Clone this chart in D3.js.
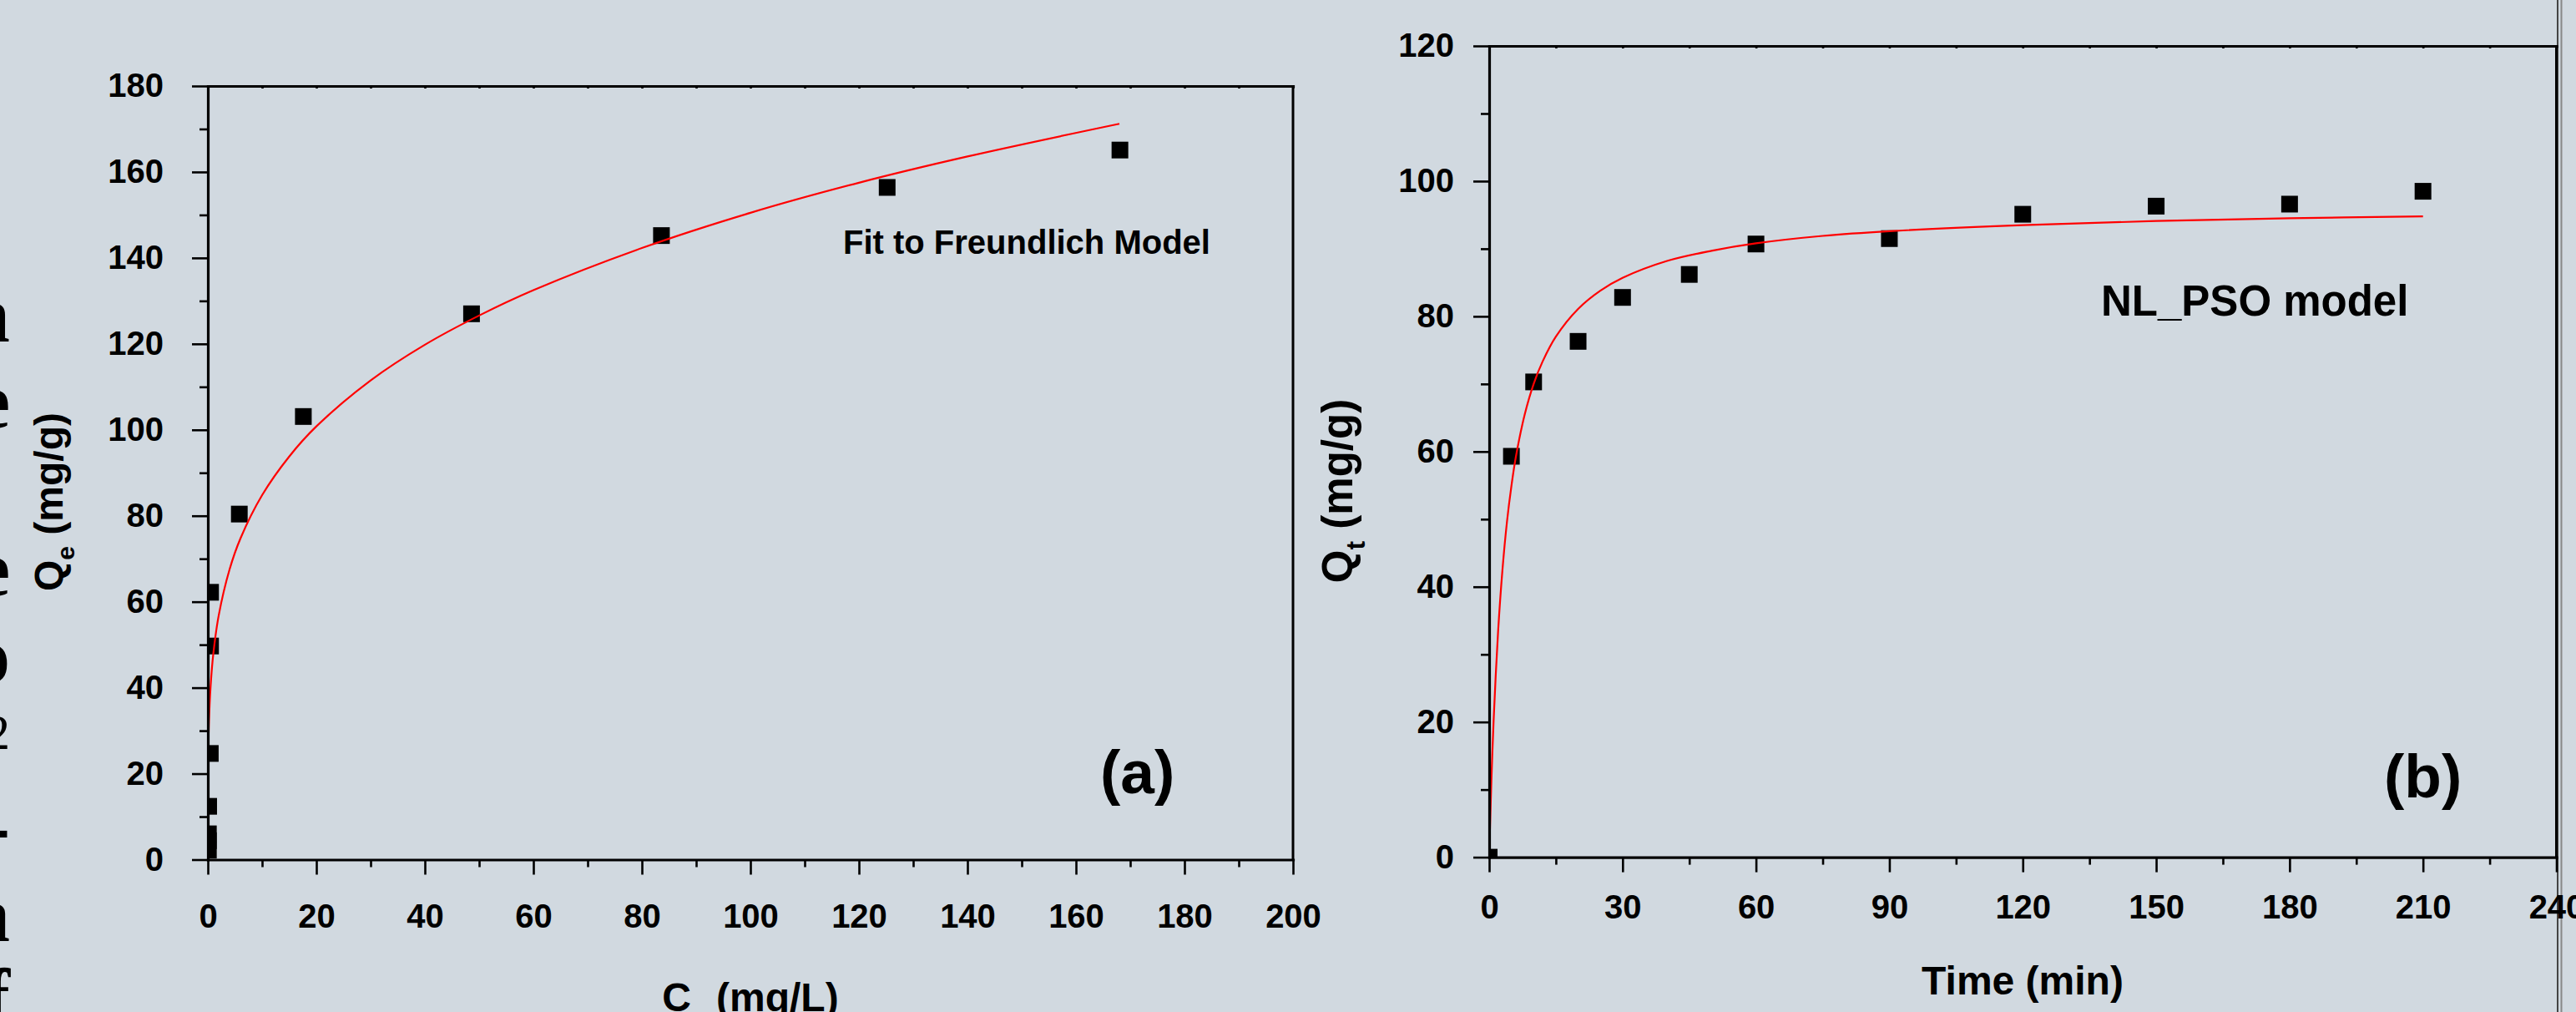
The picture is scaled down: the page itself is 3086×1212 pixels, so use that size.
<!DOCTYPE html>
<html>
<head>
<meta charset="utf-8">
<script src="https://cdn.jsdelivr.net/npm/d3@7"></script>
<style>
  html, body { margin: 0; padding: 0; background: #d1d9e0; }
  svg { display: block; }
  text { font-family: "Liberation Sans", Arial, sans-serif; font-weight: bold; fill: #000; }
</style>
</head>
<body>
<svg id="chart" width="3086" height="1212"></svg>
<script>
// ---- panel (a): equilibrium data + Freundlich fit
var ceValues = [0.1, 0.1, 0.1, 0.15, 0.45, 0.5, 0.5, 5.8, 17.6, 48.6, 83.6, 125.2, 168.1]
var qeValues = [2.2, 4.4, 6.0, 12.4, 24.7, 49.7, 62.2, 80.4, 103.1, 127.0, 145.2, 156.4, 165.1]
var ceFit = [0.05, 0.2, 0.5, 1, 2, 4, 6, 10, 15, 20, 30, 40, 50, 60, 80, 100, 120, 140, 168]
var qeFit = [22.7, 32.0, 40.2, 47.8, 56.8, 67.5, 74.7, 84.8, 93.8, 100.8, 111.5, 119.8, 126.6, 132.5, 142.3, 150.5, 157.5, 163.6, 171.2]
var ceTicks = [0, 20, 40, 60, 80, 100, 120, 140, 160, 180, 200]
var ceMinor = [10, 30, 50, 70, 90, 110, 130, 150, 170, 190]
var qeTicks = [0, 20, 40, 60, 80, 100, 120, 140, 160, 180]
var qeMinor = [10, 30, 50, 70, 90, 110, 130, 150, 170]

// ---- panel (b): kinetics data + non-linear PSO fit
var timeValues = [0, 5, 10, 20, 30, 45, 60, 90, 120, 150, 180, 210]
var qtValues = [0, 59.3, 70.3, 76.3, 82.8, 86.2, 90.7, 91.5, 95.1, 96.3, 96.6, 98.5]
var timeFit = [0, 0.5, 1, 2, 3, 4, 5, 6, 8, 10, 12, 15, 20, 25, 30, 40, 50, 60, 75, 90, 120, 150, 180, 210]
var qtFit = [0, 11.3, 20.2, 33.3, 42.6, 49.6, 54.9, 59.2, 65.5, 70.0, 73.3, 77.0, 81.1, 83.8, 85.7, 88.2, 89.7, 90.8, 91.9, 92.6, 93.5, 94.1, 94.5, 94.8]
var timeTicks = [0, 30, 60, 90, 120, 150, 180, 210, 240]
var timeMinor = [15, 45, 75, 105, 135, 165, 195, 225]
var qtTicks = [0, 20, 40, 60, 80, 100, 120]
var qtMinor = [10, 30, 50, 70, 90, 110]

// cropped text from the neighbouring slide on the left edge
var edgeLetters = ["n", "e", "e", "o", "2", "-", "a", "f"]
var edgeBaselines = [409, 512, 713, 817, 897, 1021, 1127, 1226]

var svg = d3.select("#chart")

svg.append("rect").attr("width", 3086).attr("height", 1212).attr("fill", "#d1d9e0")

svg.selectAll(".edge")
    .data(edgeLetters)
    .enter().append("text")
    .attr("class", "edge")
    .attr("x", 12)
    .attr("y", function(d, i) { return edgeBaselines[i] })
    .attr("text-anchor", "end")
    .style("font-family", "'Liberation Serif', serif")
    .style("font-weight", function(d) { return d === "2" ? "normal" : "bold" })
    .attr("font-size", function(d) { return d === "2" ? 60 : 96 })
    .text(function(d) { return d })

// slide border on the right
svg.append("line").attr("x1", 3064).attr("x2", 3064).attr("y1", 0).attr("y2", 1212).attr("stroke", "#444").attr("stroke-width", 2)
svg.append("line").attr("x1", 3068.5).attr("x2", 3068.5).attr("y1", 0).attr("y2", 1212).attr("stroke", "#888").attr("stroke-width", 2)

function drawPanel(p) {
    var g = svg.append("g")
    var x = p.x, y = p.y
    var x0 = x.range()[0], x1 = x.range()[1]
    var y0 = y.range()[0], y1 = y.range()[1]

    g.append("clipPath").attr("id", p.id + "-clip")
        .append("rect").attr("x", x0).attr("y", y1).attr("width", x1 - x0).attr("height", y0 - y1)

    var plot = g.append("g").attr("clip-path", "url(#" + p.id + "-clip)")

    plot.selectAll("rect.pt")
        .data(p.xs)
        .enter().append("rect")
        .attr("class", "pt")
        .attr("x", function(d) { return x(d) - 10 })
        .attr("y", function(d, i) { return y(p.ys[i]) - 10 })
        .attr("width", 20)
        .attr("height", 20)
        .attr("fill", "#000")

    var line = d3.line()
        .x(function(d) { return x(d) })
        .y(function(d, i) { return y(p.fy[i]) })
        .curve(d3.curveCatmullRom.alpha(0.5))

    plot.append("path")
        .attr("d", line(p.fx))
        .attr("fill", "none")
        .attr("stroke", "#ff0000")
        .attr("stroke-width", 2.2)

    // minor ticks
    g.append("g").attr("transform", "translate(0," + y0 + ")")
        .call(d3.axisBottom(x).tickValues(p.xMinor).tickSize(9).tickFormat(""))
        .call(function(s) { s.select(".domain").remove() })
    g.append("g").attr("transform", "translate(" + x0 + ",0)")
        .call(d3.axisLeft(y).tickValues(p.yMinor).tickSize(10).tickFormat(""))
        .call(function(s) { s.select(".domain").remove() })

    // tiny mirror ticks on top
    g.append("g").attr("transform", "translate(0," + y1 + ")")
        .call(d3.axisBottom(x).tickValues(p.xMinor.concat(p.xTicks)).tickSize(3).tickSizeOuter(0).tickFormat(""))

    // right border
    g.append("line").attr("class", "border")
        .attr("x1", x1).attr("x2", x1).attr("y1", y1).attr("y2", y0)
        .attr("stroke", "#000").attr("stroke-width", 3)

    // major axes
    var xAxis = g.append("g").attr("transform", "translate(0," + y0 + ")")
        .call(d3.axisBottom(x).tickValues(p.xTicks).tickSize(18).tickSizeOuter(0).tickPadding(p.xPad))
    var yAxis = g.append("g").attr("transform", "translate(" + x0 + ",0)")
        .call(d3.axisLeft(y).tickValues(p.yTicks).tickSize(19).tickSizeOuter(0).tickPadding(p.yPad))

    g.selectAll(".tick line").attr("stroke-width", 2.6)
    g.selectAll(".domain").attr("stroke-width", 3.2).attr("stroke-linecap", "square")
    g.selectAll(".tick text").attr("font-size", 40)
    xAxis.selectAll("text").attr("dy", null).attr("y", p.xLabelBase)

    return g
}

var xA = d3.scaleLinear().domain([0, 200]).range([249, 1549])
var yA = d3.scaleLinear().domain([0, 180]).range([1029.5, 103])
var xB = d3.scaleLinear().domain([0, 240]).range([1784, 3062.5])
var yB = d3.scaleLinear().domain([0, 120]).range([1026.6, 55])

var gA = drawPanel({ id: "a", x: xA, y: yA, xs: ceValues, ys: qeValues, fx: ceFit, fy: qeFit,
    xTicks: ceTicks, xMinor: ceMinor, yTicks: qeTicks, yMinor: qeMinor, xPad: 30, yPad: 34, xLabelBase: 81.5 })
var gB = drawPanel({ id: "b", x: xB, y: yB, xs: timeValues, ys: qtValues, fx: timeFit, fy: qtFit,
    xTicks: timeTicks, xMinor: timeMinor, yTicks: qtTicks, yMinor: qtMinor, xPad: 30, yPad: 23, xLabelBase: 73.4 })

// axis titles (the subscript of C_e falls below the picture's bottom edge)
var titleA = svg.append("text").attr("x", 899).attr("y", 1211).attr("text-anchor", "middle").attr("font-size", 48)
titleA.append("tspan").text("C")
titleA.append("tspan").attr("font-size", 30).attr("dy", 22).text("e")
titleA.append("tspan").attr("dy", -22).text(" (mg/L)")

svg.append("text").attr("x", 2423).attr("y", 1191).attr("text-anchor", "middle").attr("font-size", 48)
    .text("Time (min)")

var yTitleA = svg.append("text").attr("transform", "translate(75,601) rotate(-90)")
    .attr("text-anchor", "middle").attr("font-size", 48)
yTitleA.append("tspan").text("Q")
yTitleA.append("tspan").attr("font-size", 30).attr("dy", 14).text("e")
yTitleA.append("tspan").attr("dy", -14).text(" (mg/g)")

var yTitleB = svg.append("text").attr("transform", "translate(1620,588) rotate(-90)")
    .attr("text-anchor", "middle").attr("font-size", 51)
yTitleB.append("tspan").text("Q")
yTitleB.append("tspan").attr("font-size", 32).attr("dy", 15).text("t")
yTitleB.append("tspan").attr("dy", -15).text(" (mg/g)")

// annotations
svg.append("text").attr("x", 1010).attr("y", 304).attr("font-size", 40).text("Fit to Freundlich Model")
svg.append("text").attr("x", 2517).attr("y", 378).attr("font-size", 51).text("NL_PSO model")
svg.append("text").attr("x", 1318).attr("y", 950).attr("font-size", 73).text("(a)")
svg.append("text").attr("x", 2856).attr("y", 955).attr("font-size", 73).text("(b)")
</script>
</body>
</html>
